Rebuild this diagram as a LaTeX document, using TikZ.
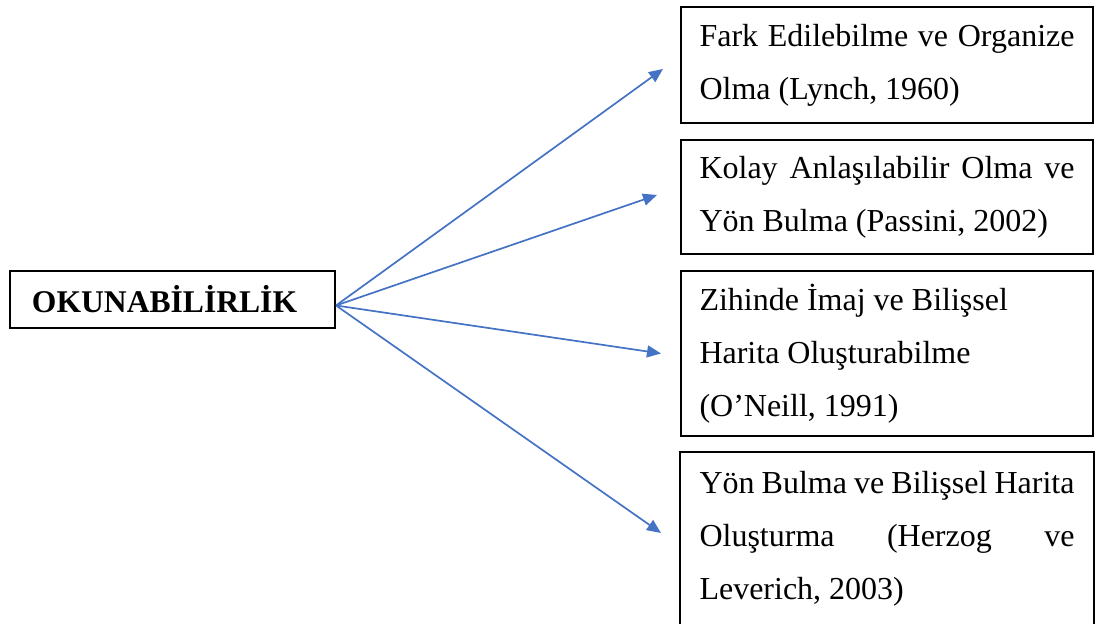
\documentclass[tikz,border=0pt]{standalone}
\usepackage{fontspec}
\setmainfont{Liberation Serif}
\usetikzlibrary{arrows.meta}
\definecolor{okmavi}{RGB}{68,114,196}
\newcommand{\arw}{-{Triangle[length=7pt,width=6pt]}}
\newcommand{\fullline}[1]{\makebox[\hsize][s]{#1}}

\begin{document}
\begin{tikzpicture}[x=.5pt,y=.5pt,
  kutu/.style={line width=1pt,text width=187.5pt,inner xsep=9.25pt,inner ysep=0pt,
    align=left,font=\fontsize{16}{26.5}\selectfont,
    execute at begin node={\spaceskip=0pt\xspaceskip=0pt}},
  ok/.style={okmavi,line width=.85pt,\arw}]
\useasboundingbox (0,0) rectangle (1097,624);
%ana kavram
\node[draw,line width=1pt,minimum height=28.5pt,text width=140.5pt,inner xsep=11pt,
  align=left,font=\fontsize{15.8}{20}\selectfont\bfseries] (okn) at (172.5,324.5) {OKUNABİLİRLİK};
%kutular
\node[kutu,draw,minimum height=58pt] (b1) at (887,559)
  {\fullline{Fark Edilebilme ve Organize}\\ Olma (Lynch, 1960)};
\node[kutu,draw,minimum height=57pt] (b2) at (887,427)
  {\fullline{Kolay Anlaşılabilir Olma ve}\\ Yön Bulma (Passini, 2002)};
\node[kutu,draw,minimum height=82.5pt] (b3) at (887,270.5)
  {Zihinde İmaj ve Bilişsel\\ Harita Oluşturabilme\\ (O’Neill, 1991)};
\node[kutu,minimum height=85.5pt] (b4) at (887,85.5)
  {\fullline{Yön Bulma ve Bilişsel Harita}\\ \fullline{Oluşturma (Herzog ve}\\ Leverich, 2003)};
\draw[line width=1pt] (b4.south west) -- (b4.north west) -- (b4.north east) -- (b4.south east);
%oklar
\coordinate (hub) at ([yshift=-3pt]okn.east);
\coordinate (t1) at ([xshift=-8.5pt,yshift=-2pt]b1.west);
\coordinate (t2) at ([xshift=-11.5pt,yshift=1pt]b2.west);
\coordinate (t3) at ([xshift=-9.5pt]b3.west);
\coordinate (t4) at ([xshift=-9.5pt,yshift=2.75pt]b4.west);
\draw[ok] (hub) -- (t1);
\draw[ok] (hub) -- (t2);
\draw[ok] (hub) -- (t3);
\draw[ok] (hub) -- (t4);
\end{tikzpicture}
\end{document}
